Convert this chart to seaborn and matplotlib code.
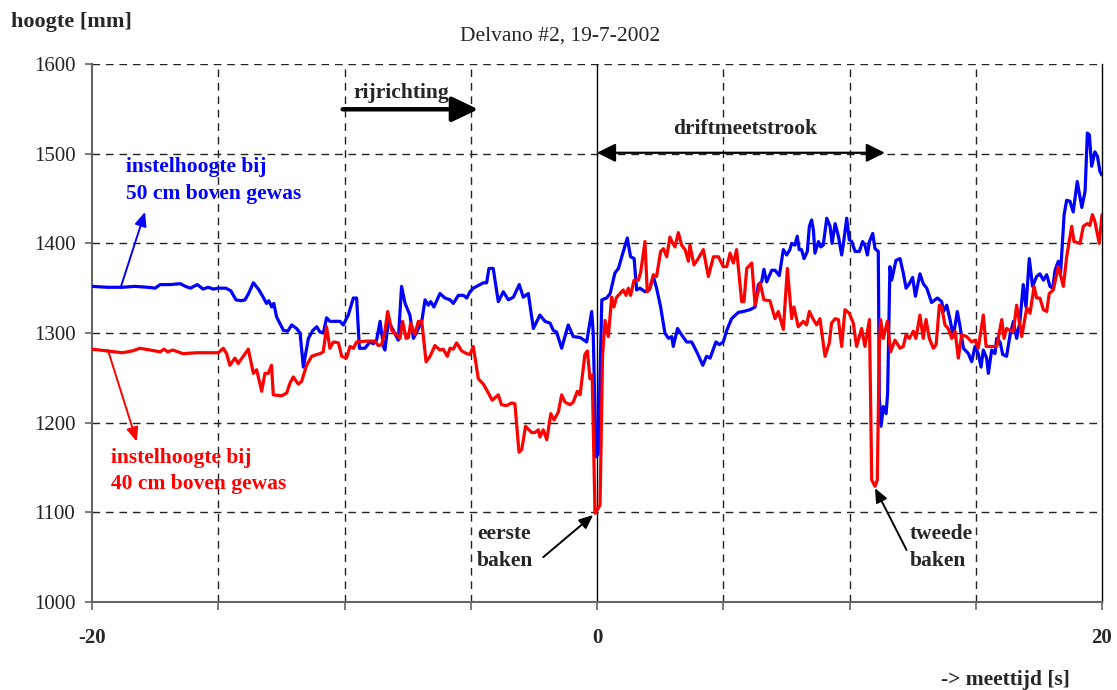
import numpy as np
import pandas as pd
import matplotlib
matplotlib.use("Agg")
import matplotlib.pyplot as plt
import seaborn as sns

# ---------------- data ----------------
blue_t = [-20.0, -19.4, -18.8, -18.3, -17.8, -17.5, -17.3, -16.9, -16.5, -16.3, -16.1, -15.83, -15.6, -15.4,
          -15.2, -15.0, -14.7, -14.5, -14.3, -14.1, -13.94, -13.8, -13.61, -13.41, -13.22, -13.09, -13.0,
          -12.88, -12.8, -12.69, -12.42, -12.25, -12.09, -11.9, -11.76, -11.63, -11.43, -11.25, -11.10,
          -10.97, -10.84, -10.71, -10.58, -10.18, -10.05, -9.85, -9.65, -9.52, -9.41, -9.19, -8.99, -8.86,
          -8.73, -8.59, -8.46, -8.40, -8.26, -8.07, -7.87, -7.74, -7.60, -7.41, -7.27, -7.14, -6.94, -6.81,
          -6.68, -6.59, -6.46, -6.22, -6.02, -5.82, -5.69, -5.49, -5.29, -5.16, -5.03, -4.90, -4.50, -4.37,
          -4.28, -4.11, -3.91, -3.71, -3.51, -3.31, -3.08, -2.92, -2.72, -2.52, -2.26, -2.06, -1.86, -1.73,
          -1.60, -1.40, -1.14, -0.94, -0.67, -0.41, -0.21, -0.15, -0.04, 0.05, 0.19, 0.38, 0.52, 0.71, 0.85,
          0.98, 1.20, 1.33, 1.47, 1.57, 1.70, 1.90, 2.07, 2.23, 2.36, 2.52, 2.69, 2.83, 2.96, 3.02, 3.19,
          3.35, 3.55, 3.75, 3.95, 4.19, 4.34, 4.48, 4.71, 4.85, 5.00, 5.14, 5.33, 5.60, 5.80, 6.06, 6.26,
          6.39, 6.52, 6.61, 6.72, 6.92, 7.05, 7.22, 7.31, 7.38, 7.51, 7.64, 7.71, 7.84, 7.93, 8.01, 8.10,
          8.20, 8.33, 8.41, 8.50, 8.57, 8.63, 8.77, 8.86, 8.96, 9.10, 9.23, 9.31, 9.43, 9.56, 9.69, 9.78,
          9.89, 9.99, 10.09, 10.22, 10.39, 10.52, 10.61, 10.71, 10.79, 10.92, 11.01, 11.14, 11.18, 11.25,
          11.34, 11.45, 11.51, 11.60, 11.67, 11.84, 12.00, 12.13, 12.24, 12.37, 12.50, 12.61, 12.79, 12.92,
          13.06, 13.25, 13.48, 13.65, 13.72, 13.85, 13.98, 14.11, 14.27, 14.38, 14.51, 14.71, 14.84, 14.97,
          15.10, 15.21, 15.30, 15.43, 15.50, 15.63, 15.76, 15.83, 15.96, 16.07, 16.22, 16.36, 16.49, 16.62,
          16.75, 16.88, 16.99, 17.12, 17.25, 17.41, 17.54, 17.68, 17.81, 17.94, 18.05, 18.14, 18.27, 18.36,
          18.50, 18.60, 18.73, 18.86, 19.02, 19.20, 19.33, 19.42, 19.50, 19.59, 19.72, 19.82, 19.92, 20.0]
blue_h = [1352, 1351, 1351, 1352, 1351, 1350, 1354, 1354, 1355, 1352, 1350, 1354, 1349, 1351,
          1349, 1350, 1350, 1347, 1337, 1336, 1337, 1344, 1356, 1349, 1340, 1333, 1336,
          1329, 1333, 1318, 1303, 1302, 1309, 1305, 1300, 1262, 1294, 1303, 1307,
          1301, 1300, 1317, 1313, 1313, 1309, 1320, 1339, 1339, 1283, 1283, 1290, 1288,
          1292, 1313, 1285, 1281, 1313, 1303, 1292, 1352, 1333, 1320, 1294, 1301, 1313, 1337,
          1331, 1335, 1329, 1344, 1339, 1337, 1333, 1342, 1342, 1339, 1346, 1350, 1356, 1356,
          1372, 1372, 1335, 1346, 1337, 1340, 1354, 1340, 1344, 1305, 1320, 1313, 1311, 1303,
          1301, 1283, 1309, 1296, 1295, 1290, 1324, 1300, 1162, 1165, 1337, 1339, 1344, 1367, 1372,
          1385, 1406, 1385, 1383, 1348, 1350, 1346, 1348, 1363, 1350, 1329, 1300, 1294, 1296, 1285, 1305,
          1298, 1290, 1290, 1279, 1264, 1274, 1272, 1290, 1287, 1290, 1303, 1316, 1323, 1324, 1326, 1329,
          1354, 1357, 1371, 1357, 1370, 1370, 1364, 1380, 1393, 1387, 1393, 1400, 1398, 1408, 1393, 1393,
          1383, 1391, 1419, 1426, 1415, 1389, 1402, 1396, 1398, 1428, 1419, 1400, 1422, 1408, 1387, 1404,
          1428, 1404, 1402, 1391, 1391, 1402, 1398, 1387, 1402, 1411, 1394, 1391, 1229, 1196,
          1218, 1210, 1233, 1374, 1359, 1381, 1383, 1367, 1350, 1355, 1362, 1341, 1366, 1355,
          1350, 1334, 1339, 1335, 1324, 1331, 1315, 1296, 1324, 1307, 1283, 1277, 1268, 1285,
          1277, 1262, 1281, 1272, 1255, 1281, 1277, 1294, 1290, 1276, 1274, 1298, 1313, 1294,
          1313, 1354, 1329, 1383, 1352, 1363, 1366, 1359, 1365, 1352, 1350, 1370, 1380, 1367,
          1432, 1448, 1447, 1435, 1469, 1440, 1458, 1523, 1521, 1486, 1502, 1497, 1480, 1476]

red_t = [-20.0, -19.4, -18.8, -18.4, -18.1, -17.7, -17.3, -17.15, -17.0, -16.8, -16.4, -15.85, -15.0, -14.80,
         -14.67, -14.54, -14.34, -14.21, -14.01, -13.81, -13.61, -13.48, -13.28, -13.15, -13.02, -12.89,
         -12.82, -12.49, -12.29, -12.16, -12.03, -11.83, -11.70, -11.50, -11.30, -11.10, -10.97, -10.84,
         -10.71, -10.58, -10.44, -10.24, -10.11, -9.92, -9.78, -9.65, -9.52, -9.12, -8.79, -8.66, -8.53,
         -8.40, -8.29, -8.13, -7.93, -7.80, -7.70, -7.56, -7.47, -7.38, -7.21, -7.08, -6.94, -6.77, -6.61,
         -6.42, -6.22, -6.09, -5.93, -5.82, -5.69, -5.56, -5.36, -5.16, -5.03, -4.90, -4.70, -4.50, -4.30,
         -4.15, -3.91, -3.78, -3.58, -3.38, -3.25, -3.09, -2.98, -2.83, -2.59, -2.46, -2.32, -2.26, -2.13,
         -1.99, -1.83, -1.70, -1.53, -1.40, -1.27, -1.07, -0.94, -0.78, -0.67, -0.48, -0.38, -0.28, -0.19,
         -0.08, 0.12, 0.22, 0.32, 0.45, 0.58, 0.67, 0.78, 0.91, 1.04, 1.15, 1.24, 1.33, 1.47, 1.64, 1.73,
         1.90, 1.99, 2.10, 2.23, 2.36, 2.52, 2.63, 2.76, 2.89, 3.00, 3.09, 3.22, 3.35, 3.49, 3.62, 3.68,
         3.84, 4.01, 4.21, 4.41, 4.61, 4.81, 5.00, 5.14, 5.27, 5.40, 5.53, 5.73, 5.82, 5.93, 6.13, 6.26,
         6.46, 6.61, 6.85, 7.05, 7.18, 7.38, 7.54, 7.71, 7.80, 7.97, 8.17, 8.30, 8.41, 8.57, 8.70, 8.83,
         9.03, 9.20, 9.29, 9.43, 9.56, 9.69, 9.82, 9.99, 10.15, 10.28, 10.48, 10.61, 10.79, 10.88, 11.01,
         11.10, 11.18, 11.23, 11.34, 11.50, 11.63, 11.80, 12.00, 12.13, 12.24, 12.37, 12.53, 12.63, 12.79,
         12.92, 13.03, 13.16, 13.32, 13.43, 13.56, 13.65, 13.78, 13.91, 14.05, 14.18, 14.31, 14.44, 14.64,
         14.84, 14.97, 15.10, 15.30, 15.41, 15.56, 15.83, 16.03, 16.12, 16.22, 16.36, 16.49, 16.62, 16.82,
         17.02, 17.15, 17.31, 17.41, 17.54, 17.68, 17.81, 17.91, 18.07, 18.27, 18.47, 18.60, 18.80, 18.89,
         19.13, 19.26, 19.42, 19.52, 19.62, 19.72, 19.89, 20.0]
red_h = [1282, 1280, 1278, 1280, 1283, 1281, 1279, 1282, 1279, 1281, 1277, 1278, 1278, 1283,
         1277, 1264, 1272, 1266, 1274, 1282, 1255, 1259, 1235, 1255, 1255, 1264,
         1231, 1230, 1233, 1244, 1251, 1243, 1246, 1264, 1274, 1276, 1277, 1279,
         1307, 1283, 1290, 1289, 1274, 1272, 1285, 1283, 1290, 1291, 1291, 1286, 1287,
         1302, 1324, 1303, 1298, 1294, 1313, 1294, 1295, 1311, 1298, 1313, 1313, 1268, 1274,
         1286, 1281, 1282, 1274, 1283, 1282, 1289, 1280, 1277, 1276, 1285, 1249, 1243, 1233,
         1225, 1231, 1220, 1219, 1222, 1221, 1167, 1170, 1196, 1189, 1189, 1192, 1184, 1192,
         1181, 1210, 1203, 1212, 1231, 1223, 1220, 1223, 1235, 1231, 1276, 1280, 1249, 1253,
         1099, 1108, 1275, 1314, 1296, 1340, 1329, 1340, 1344, 1348, 1342, 1350, 1342, 1359, 1359, 1368,
         1402, 1346, 1350, 1365, 1363, 1391, 1394, 1385, 1407, 1400, 1396, 1412, 1398, 1393, 1380, 1398,
         1376, 1383, 1393, 1363, 1385, 1385, 1374, 1374, 1389, 1378, 1393, 1335, 1335, 1372, 1378, 1331,
         1356, 1337, 1336, 1316, 1324, 1304, 1372, 1316, 1329, 1307, 1313, 1309, 1324, 1315, 1309, 1316,
         1274, 1289, 1311, 1316, 1315, 1285, 1326, 1322, 1311, 1285, 1305, 1285, 1315, 1136, 1129,
         1136, 1285, 1315, 1294, 1313, 1279, 1292, 1283, 1285, 1298, 1294, 1302, 1294, 1320,
         1294, 1315, 1294, 1283, 1287, 1331, 1329, 1309, 1305, 1294, 1302, 1272, 1298, 1296,
         1290, 1292, 1283, 1320, 1285, 1285, 1285, 1315, 1294, 1305, 1303, 1302, 1331, 1296,
         1328, 1322, 1352, 1339, 1339, 1326, 1324, 1344, 1348, 1374, 1352, 1385, 1419, 1402,
         1400, 1419, 1422, 1420, 1432, 1424, 1400, 1432]

x_ticks = [-20, -15, -10, -5, 0, 5, 10, 15, 20]
x_tick_labels = ["-20", "", "", "", "0", "", "", "", "20"]
y_ticks = [1000, 1100, 1200, 1300, 1400, 1500, 1600]

title = "Delvano #2, 19-7-2002"
y_label = "hoogte [mm]"
x_label = "-> meettijd [s]"

# ---------------- style ----------------
sns.set_theme(style="white")
plt.rcParams["font.family"] = ["Liberation Serif", "DejaVu Serif"]

W, H = 1117, 690
fig = plt.figure(figsize=(W / 100, H / 100), dpi=100)
ax = fig.add_axes([92 / W, 1 - 602 / H, (1102 - 92) / W, (602 - 64) / H])

df_b = pd.DataFrame({"t": blue_t, "h": blue_h})
df_r = pd.DataFrame({"t": red_t, "h": red_h})

grid_kw = dict(color="#222222", lw=1.0, ls=(0, (5.5, 4.2)), zorder=1)
for yv in y_ticks[1:]:
    ax.axhline(yv, **grid_kw)
for xv in x_ticks[1:-1]:
    if xv != 0:
        ax.axvline(xv, **grid_kw)
ax.axvline(0, color="black", lw=1.0, zorder=1.5)

sns.lineplot(data=df_b, x="t", y="h", color="#0000FF", lw=2.3, estimator=None,
             sort=False, ax=ax, zorder=3, legend=False)
sns.lineplot(data=df_r, x="t", y="h", color="#FF0000", lw=2.3, estimator=None,
             sort=False, ax=ax, zorder=4, legend=False)

ax.set_xlim(-20, 20)
ax.set_ylim(1000, 1600)
ax.set_xlabel("")
ax.set_ylabel("")
ax.set_xticks(x_ticks)
ax.set_xticklabels(x_tick_labels, fontsize=15, fontweight="bold")
ax.set_yticks(y_ticks)
ax.set_yticklabels([str(v) for v in y_ticks], fontsize=15, color="#222222")
ax.tick_params(axis="x", direction="out", length=6, width=1.2, color="#666666", pad=13,
               bottom=True)
ax.tick_params(axis="y", direction="out", length=5, width=1.2, color="#666666", pad=7,
               left=True)

for side in ["left", "bottom"]:
    ax.spines[side].set_color("#666666")
    ax.spines[side].set_linewidth(1.5)
ax.spines["top"].set_visible(False)
ax.spines["right"].set_color("black")
ax.spines["right"].set_linewidth(1.0)

# titles / labels
fig.text(560 / W, 1 - 36 / H, title, ha="center", va="center", fontsize=15.5)
fig.text(11 / W, 1 - 22 / H, y_label, ha="left", va="center", fontsize=16, fontweight="bold")
fig.text(1070 / W, 1 - 680 / H, x_label, ha="right", va="center", fontsize=15.5, fontweight="bold")

bold = dict(fontsize=15.5, fontweight="bold")

# series labels
ax.text(-18.67, 1479, "instelhoogte bij", color="#0000FF", va="baseline", **bold)
ax.text(-18.67, 1449, "50 cm boven gewas", color="#0000FF", va="baseline", **bold)
ax.annotate("", xy=(-17.9, 1435), xytext=(-18.85, 1352),
            arrowprops=dict(arrowstyle="-|>,head_length=0.7,head_width=0.3", color="#0000FF",
                            lw=1.4, mutation_scale=12, shrinkA=0, shrinkB=0))
ax.text(-19.25, 1155, "instelhoogte bij", color="#FF0000", va="baseline", **bold)
ax.text(-19.25, 1126, "40 cm boven gewas", color="#FF0000", va="baseline", **bold)
ax.annotate("", xy=(-18.23, 1179), xytext=(-19.37, 1281),
            arrowprops=dict(arrowstyle="-|>,head_length=0.7,head_width=0.3", color="#FF0000",
                            lw=1.4, mutation_scale=12, shrinkA=0, shrinkB=0))

# direction arrow
ax.text(-7.75, 1562, "rijrichting", ha="center", va="baseline", **bold)
ax.annotate("", xy=(-4.7, 1549.5), xytext=(-10.07, 1549.5),
            arrowprops=dict(arrowstyle="-|>,head_length=0.8,head_width=0.38", color="black",
                            lw=3.2, mutation_scale=20, shrinkA=0, shrinkB=0))

# measuring strip
ax.text(5.85, 1522, "driftmeetstrook", ha="center", va="baseline", **bold)
ax.annotate("", xy=(11.4, 1501), xytext=(0.0, 1501),
            arrowprops=dict(arrowstyle="<|-|>,head_length=0.7,head_width=0.35", color="black",
                            lw=1.6, mutation_scale=16, shrinkA=0, shrinkB=0))

# beacons
ax.text(-4.76, 1070, "eerste", ha="left", va="baseline", **bold)
ax.text(-4.76, 1040, "baken", ha="left", va="baseline", **bold)
ax.annotate("", xy=(-0.15, 1097), xytext=(-2.13, 1050),
            arrowprops=dict(arrowstyle="-|>,head_length=0.7,head_width=0.3", color="black",
                            lw=1.4, mutation_scale=12, shrinkA=0, shrinkB=0))
ax.text(12.4, 1070, "tweede", ha="left", va="baseline", **bold)
ax.text(12.4, 1040, "baken", ha="left", va="baseline", **bold)
ax.annotate("", xy=(11.01, 1127), xytext=(12.26, 1058),
            arrowprops=dict(arrowstyle="-|>,head_length=0.7,head_width=0.3", color="black",
                            lw=1.4, mutation_scale=12, shrinkA=0, shrinkB=0))

fig.savefig("out.png", dpi=100)
